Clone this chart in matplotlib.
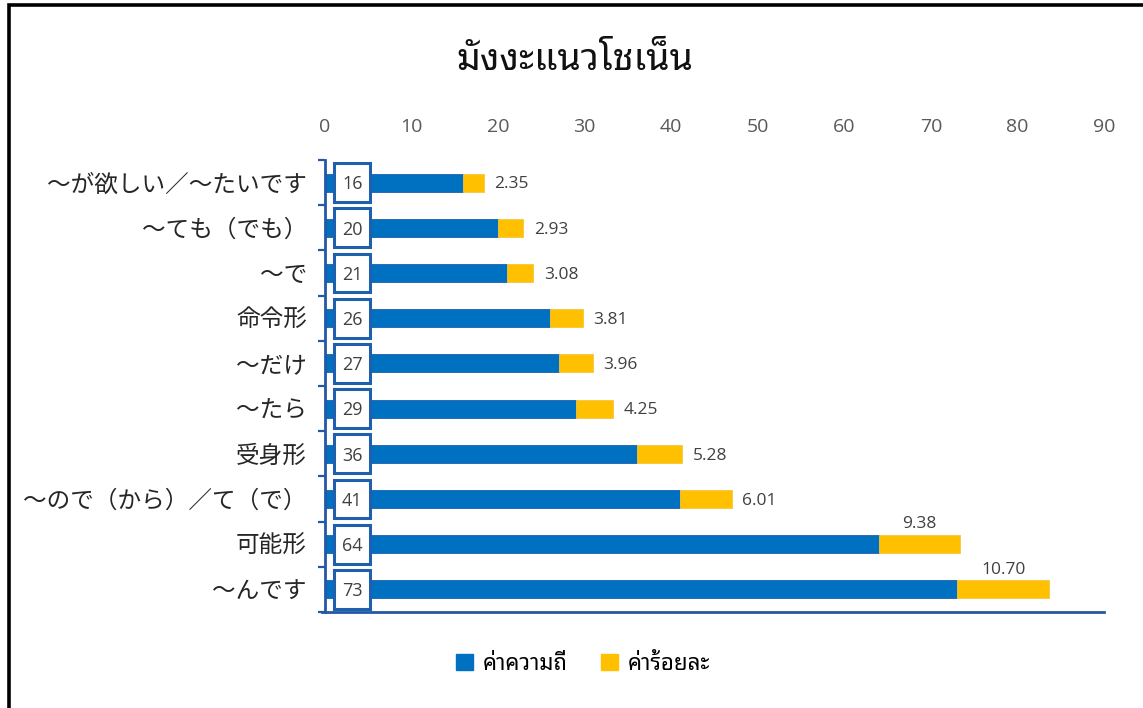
import matplotlib
matplotlib.use("Agg")
import matplotlib.pyplot as plt
from matplotlib import font_manager as fm
from matplotlib.ft2font import FT2Font
from matplotlib.patches import Rectangle, Patch
import numpy as np

# ---------------- data ----------------
categories = ["～が欲しい／～たいです", "～ても（でも）", "～で", "命令形", "～だけ",
              "～たら", "受身形", "～ので（から）／て（で）", "可能形", "～んです"]
frequency = [16, 20, 21, 26, 27, 29, 36, 41, 64, 73]
percent = [2.35, 2.93, 3.08, 3.81, 3.96, 4.25, 5.28, 6.01, 9.38, 10.70]
x_ticks = [0, 10, 20, 30, 40, 50, 60, 70, 80, 90]
title = "มังงะแนวโชเน็น"
legend_labels = ["ค่าความถี่", "ค่าร้อยละ"]

# ---------------- fonts ----------------
thai_families = {}
for p in fm.findSystemFonts():
    try:
        f = FT2Font(p)
        if f.get_char_index(0x0E21) and f.get_char_index(0x0E48):
            thai_families.setdefault(f.family_name, p)
    except Exception:
        pass
thai_font = None
for pref in ["Noto Sans Thai Looped", "Sarabun", "Tahoma", "Leelawadee UI",
             "Noto Sans Thai", "IBM Plex Sans Thai Looped", "Anuphan"]:
    if pref in thai_families:
        thai_font = pref
        break
if thai_font is None and thai_families:
    thai_font = sorted(thai_families)[0]
thai_list = [thai_font, "DejaVu Sans"] if thai_font else ["DejaVu Sans"]

jp_font = ["Noto Sans CJK JP", "DejaVu Sans"]
num_font = ["Open Sans", "DejaVu Sans"]

BLUE = "#0070C0"
YELLOW = "#FFC000"
AXBLUE = "#2457A4"
GREY = "#404040"

W, H = 1143, 708
fig = plt.figure(figsize=(W / 100, H / 100), dpi=100)
ax = fig.add_axes([325 / W, 1 - 612 / H, (1104 - 325) / W, (612 - 160) / H])

y = np.arange(len(categories))
bar_h = 0.4
ax.barh(y, frequency, height=bar_h, color=BLUE, edgecolor="#1F5FAD", linewidth=0.6,
        zorder=2, label=legend_labels[0])
ax.barh(y, percent, left=frequency, height=bar_h, color=YELLOW, edgecolor="#F5C542",
        linewidth=0.6, zorder=2, label=legend_labels[1])

ax.set_xlim(x_ticks[0], x_ticks[-1])
ax.set_ylim(len(categories) - 0.5, -0.5)

# number boxes
box_x0, box_w, box_hh = 1.05, 4.2, 0.43
for yi, v in zip(y, frequency):
    ax.add_patch(Rectangle((box_x0, yi - box_hh), box_w, 2 * box_hh, facecolor="white",
                           edgecolor="#1F5FAD", linewidth=2.2, zorder=4, clip_on=False))
    ax.text(box_x0 + box_w / 2, yi + 0.04, str(v), ha="center", va="center",
            fontsize=13, color=GREY, family=num_font, zorder=5)

# percent labels
for yi, f, p in zip(y, frequency, percent):
    if p > 9:
        ax.text(f + p / 2, yi - bar_h / 2 - 0.06, f"{p:.2f}", ha="center", va="bottom",
                fontsize=12.5, color=GREY, family=num_font, zorder=5)
    else:
        ax.text(f + p + 1.2, yi + 0.04, f"{p:.2f}", ha="left", va="center",
                fontsize=12.5, color=GREY, family=num_font, zorder=5)

# axes styling
ax.xaxis.tick_top()
ax.set_xticks(x_ticks)
ax.set_xticklabels([str(t) for t in x_ticks], family=num_font, fontsize=14, color="#595959")
ax.tick_params(axis="x", length=0, pad=17)
ax.set_yticks(y)
ax.set_yticklabels(categories, family=jp_font, fontsize=17, color="#262626")
ax.tick_params(axis="y", which="major", length=0, pad=13)
ax.set_yticks(np.arange(len(categories) + 1) - 0.5, minor=True)
ax.tick_params(axis="y", which="minor", length=5, width=1.6, color=AXBLUE, direction="out")
for s in ["top", "right"]:
    ax.spines[s].set_visible(False)
ax.spines["left"].set_color(AXBLUE)
ax.spines["left"].set_linewidth(2.0)
ax.spines["bottom"].set_color(AXBLUE)
ax.spines["bottom"].set_linewidth(2.0)
ax.spines["bottom"].set_bounds(-0.3, 90)
ax.set_facecolor("none")

# title
fig.text(575 / W, 1 - 60 / H, title, ha="center", va="center", fontsize=27,
         fontweight="bold", family=thai_list, color="#111111")

# legend
handles = [Patch(facecolor=BLUE, edgecolor=BLUE), Patch(facecolor=YELLOW, edgecolor=YELLOW)]
fig.legend(handles, legend_labels, loc="center", bbox_to_anchor=(583 / W, 1 - 664 / H),
           ncol=2, frameon=False, prop={"family": thai_list, "size": 16},
           handlelength=0.75, handleheight=0.75, handletextpad=0.45, columnspacing=1.5)

# outer frame (left and top edges visible)
fig.add_artist(Rectangle((9 / W, -0.05), 1.2, 1 - 5 / H + 0.05, transform=fig.transFigure,
                         fill=False, edgecolor="black", linewidth=2.6, clip_on=False))

fig.savefig("out.png", dpi=100)
